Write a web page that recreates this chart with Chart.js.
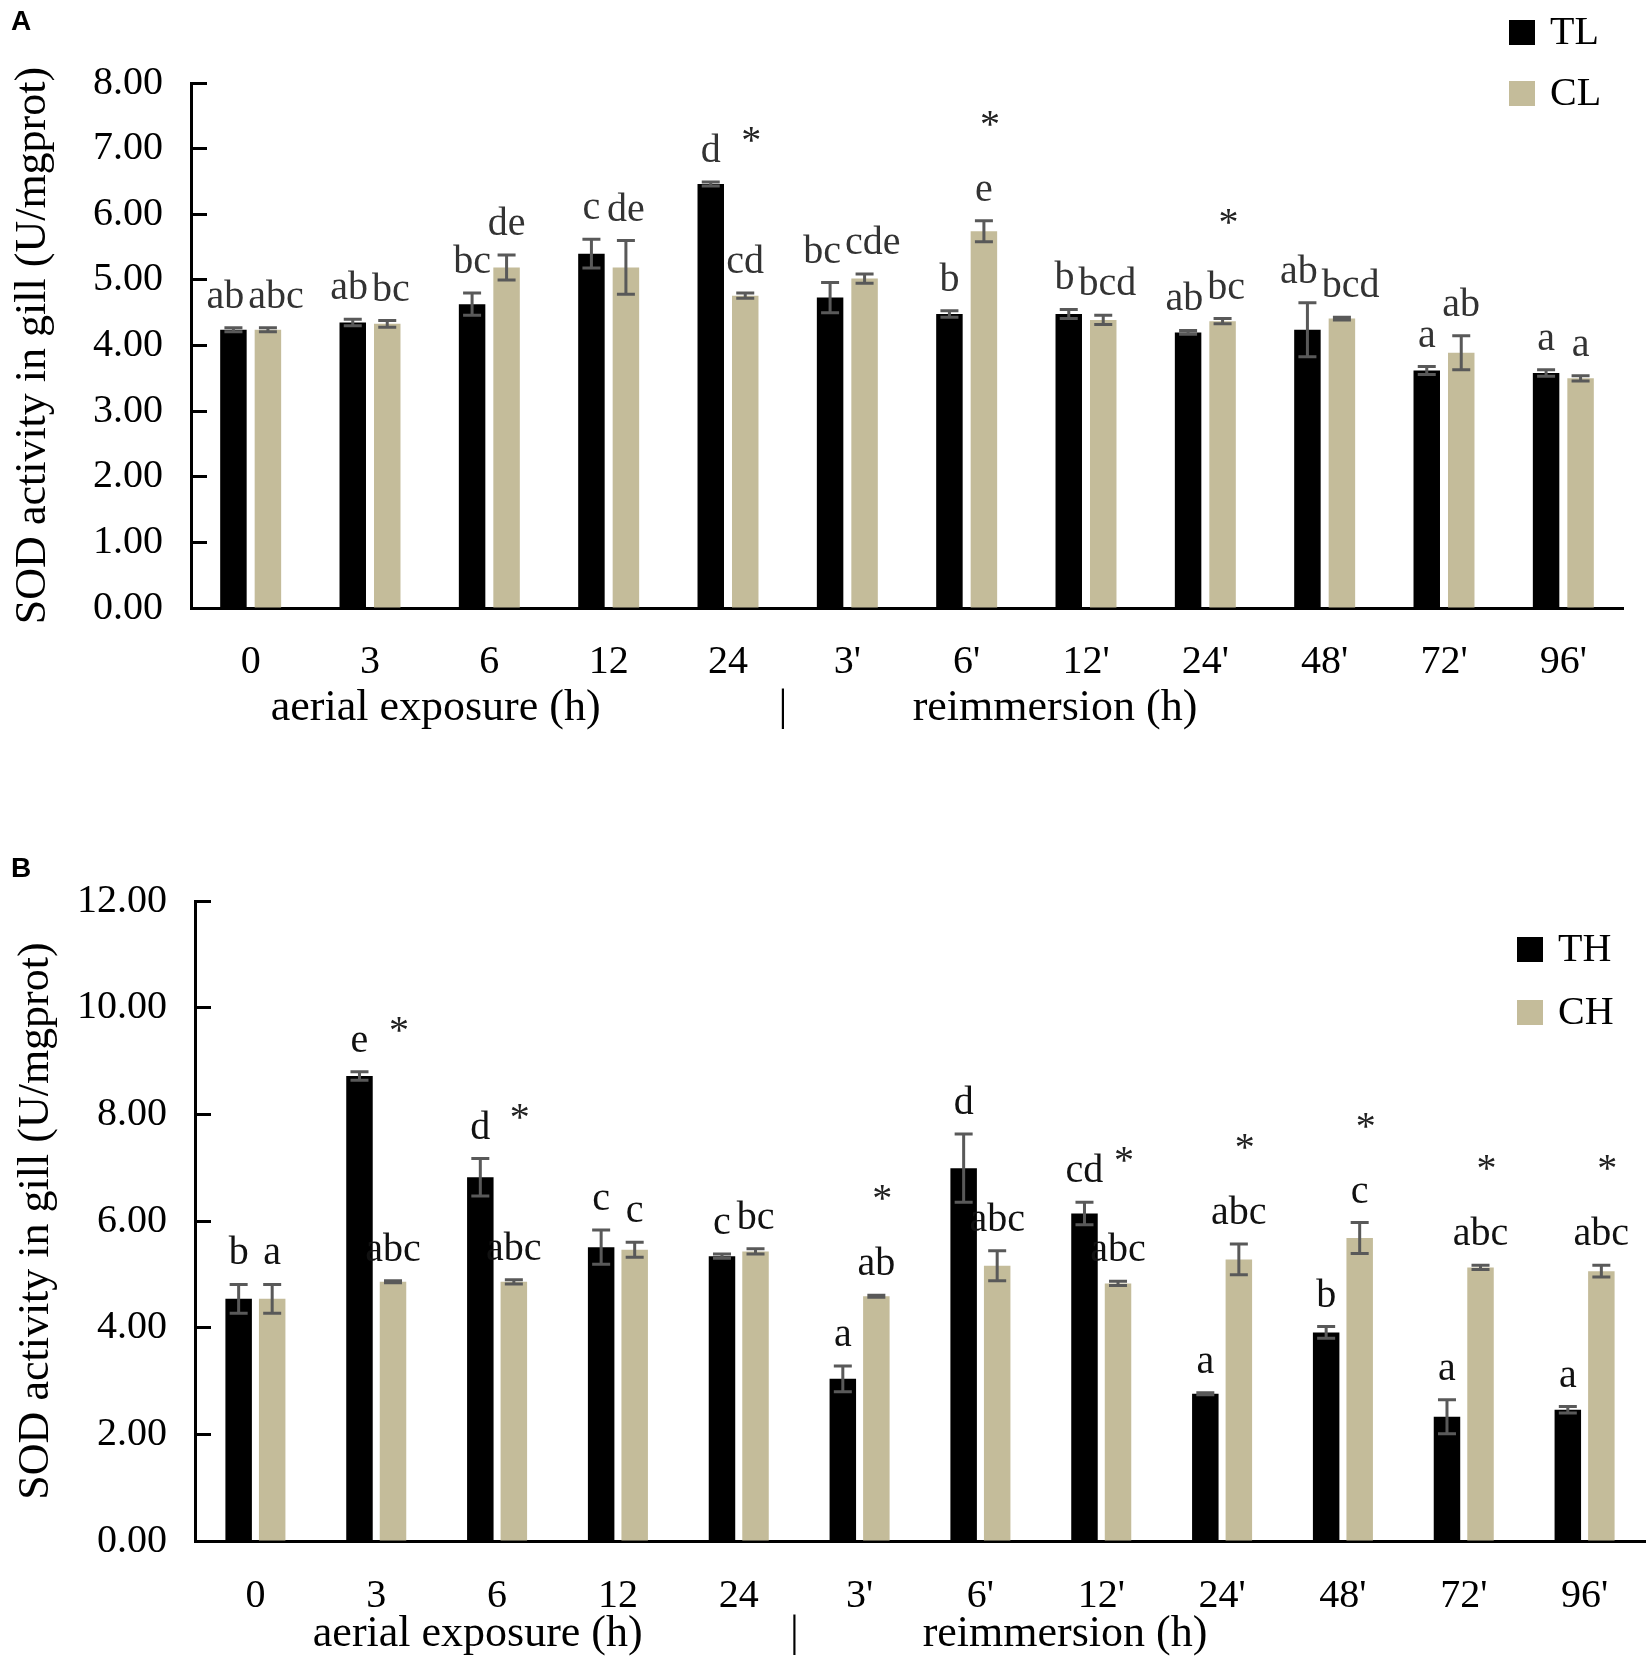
<!DOCTYPE html>
<html>
<head>
<meta charset="utf-8">
<script src="https://cdn.jsdelivr.net/npm/chart.js@4.4.1/dist/chart.umd.min.js"></script>
<style>
  html, body { margin: 0; padding: 0; background: #fff; }
  #wrap { position: relative; width: 1650px; height: 1669px; }
  canvas { position: absolute; left: 0; }
  #chartA { top: 0; }
  #chartB { top: 820px; }
</style>
</head>
<body>
<div id="wrap">
  <canvas id="chartA" width="1650" height="760"></canvas>
  <canvas id="chartB" width="1650" height="849"></canvas>
</div>
<script>
// time points (aerial exposure, then reimmersion)
const hours = ['0', '3', '6', '12', '24', "3'", "6'", "12'", "24'", "48'", "72'", "96'"];

// panel A: low temperature
const tlMean = [4.24, 4.35, 4.63, 5.40, 6.46, 4.73, 4.48, 4.48, 4.20, 4.24, 3.62, 3.58];
const tlErr  = [0.03, 0.05, 0.17, 0.22, 0.03, 0.23, 0.05, 0.07, 0.03, 0.41, 0.06, 0.05];
const clMean = [4.24, 4.33, 5.19, 5.19, 4.76, 5.02, 5.74, 4.39, 4.37, 4.41, 3.89, 3.50];
const clErr  = [0.03, 0.05, 0.19, 0.41, 0.04, 0.07, 0.16, 0.07, 0.04, 0.02, 0.26, 0.04];
const tlLetters = ['ab', 'ab', 'bc', 'c', 'd', 'bc', 'b', 'b', 'ab', 'ab', 'a', 'a'];
const clLetters = ['abc', 'bc', 'de', 'de', 'cd', 'cde', 'e', 'bcd', 'bc', 'bcd', 'ab', 'a'];
const starsA = [false, false, false, false, true, false, true, false, true, false, false, false];
const ticksA = [0, 8, 1];

// panel B: high temperature
const thMean = [4.54, 8.72, 6.82, 5.51, 5.34, 3.04, 6.99, 6.14, 2.76, 3.91, 2.33, 2.46];
const thErr  = [0.27, 0.08, 0.35, 0.32, 0.04, 0.24, 0.64, 0.21, 0.02, 0.11, 0.32, 0.06];
const chMean = [4.54, 4.86, 4.86, 5.46, 5.43, 4.59, 5.16, 4.83, 5.28, 5.68, 5.13, 5.06];
const chErr  = [0.27, 0.02, 0.04, 0.14, 0.05, 0.02, 0.28, 0.04, 0.29, 0.29, 0.04, 0.11];
const thLetters = ['b', 'e', 'd', 'c', 'c', 'a', 'd', 'cd', 'a', 'b', 'a', 'a'];
const chLetters = ['a', 'abc', 'abc', 'c', 'bc', 'ab', 'abc', 'abc', 'abc', 'c', 'abc', 'abc'];
const starsB = [false, true, true, false, false, true, false, true, true, true, true, true];
const ticksB = [0, 12, 2];

const yTitle = 'SOD activity in gill (U/mgprot)';
const BLACK = '#000000';
const TAN = '#c4bc9a';
const SERIF = '"Liberation Serif", "Times New Roman", serif';

Chart.defaults.font.family = SERIF;
Chart.defaults.color = '#000';

// error bars, letters, stars, legend, panel tag and the two axis captions
const annotate = {
  id: 'annotate',
  afterDatasetsDraw(chart, args, opts) {
    const ctx = chart.ctx;
    const y = chart.scales.y;
    const x = chart.scales.x;
    const sets = chart.data.datasets;
    const metas = sets.map((d, i) => chart.getDatasetMeta(i));
    ctx.save();

    ctx.strokeStyle = '#595959';
    ctx.lineWidth = 3;
    sets.forEach((ds, i) => {
      metas[i].data.forEach((bar, j) => {
        const top = y.getPixelForValue(ds.data[j] + ds.errors[j]);
        const bot = y.getPixelForValue(ds.data[j] - ds.errors[j]);
        ctx.beginPath();
        ctx.moveTo(bar.x, top); ctx.lineTo(bar.x, bot);
        ctx.moveTo(bar.x - 9, top); ctx.lineTo(bar.x + 9, top);
        ctx.moveTo(bar.x - 9, bot); ctx.lineTo(bar.x + 9, bot);
        ctx.stroke();
      });
    });

    ctx.font = '40px ' + SERIF;
    ctx.textAlign = 'center';
    ctx.textBaseline = 'alphabetic';
    for (let j = 0; j < chart.data.labels.length; j++) {
      const items = sets.map((ds, i) => ({
        text: ds.letters[j],
        x: metas[i].data[j].x,
        base: y.getPixelForValue(ds.data[j] + ds.errors[j]) - 20,
        w: ctx.measureText(ds.letters[j]).width
      }));
      const [l, r] = items;
      if (Math.abs(l.base - r.base) < 30) {
        const overlap = (l.x + l.w / 2) - (r.x - r.w / 2) + 4;
        if (overlap > 0) { l.x -= overlap / 2; r.x += overlap / 2; }
      }
      ctx.fillStyle = opts.letterColor;
      items.forEach(it => ctx.fillText(it.text, it.x, it.base));
      if (opts.stars[j]) {
        // star sits over the control label, or level with the treated label if that is higher
        const centre = Math.min(r.base - 28 - 55, l.base - 28);
        ctx.fillStyle = '#222';
        ctx.fillText('*', metas[1].data[j].x + 6, centre + 19);
      }
    }

    // legend
    const lg = opts.legend;
    ctx.textAlign = 'left';
    ctx.textBaseline = 'middle';
    sets.forEach((ds, i) => {
      const top = lg.y + i * lg.gap;
      ctx.fillStyle = ds.backgroundColor;
      ctx.fillRect(lg.x, top, 26, 25);
      ctx.fillStyle = '#000';
      ctx.fillText(ds.label, lg.x + 41, top + 13);
    });

    // captions under the category axis
    ctx.textAlign = 'center';
    ctx.font = '44px ' + SERIF;
    opts.captions.forEach(c => {
      ctx.fillText(c.text, x.getPixelForValue(c.at), opts.captionY);
    });

    ctx.font = 'bold 28px "Liberation Sans", Arial, sans-serif';
    ctx.textAlign = 'left';
    ctx.textBaseline = 'alphabetic';
    ctx.fillText(opts.tag, 11, opts.tagY);
    ctx.restore();
  }
};

const makeChart = (id, series, ticks, layout, extra) => {
  new Chart(document.getElementById(id), {
    type: 'bar',
    data: {
      labels: hours,
      datasets: series.map(s => ({
        label: s.label,
        data: s.mean,
        errors: s.err,
        letters: s.letters,
        backgroundColor: s.color,
        borderWidth: 0,
        categoryPercentage: layout.catPct,
        barPercentage: layout.barPct
      }))
    },
    options: {
      responsive: false,
      animation: false,
      devicePixelRatio: 1,
      layout: { padding: layout.padding },
      plugins: {
        legend: { display: false },
        tooltip: { enabled: false },
        annotate: extra
      },
      scales: {
        x: {
          afterFit: s => { s.height = layout.xHeight; },
          grid: { display: false },
          border: { display: true, color: '#000', width: 3 },
          ticks: { font: { size: 40 }, padding: layout.xPad, color: '#000', maxRotation: 0 }
        },
        y: {
          min: ticks[0],
          max: ticks[1],
          afterFit: s => { s.width = layout.yWidth; },
          grid: { display: true, drawOnChartArea: false, drawTicks: true, tickLength: -16, tickColor: '#000', tickWidth: 3 },
          border: { display: true, color: '#000', width: 3 },
          ticks: { stepSize: ticks[2], font: { size: 40 }, padding: 44, color: '#000', callback: v => v.toFixed(2) },
          title: { display: true, text: yTitle, font: { size: 44 }, color: '#000', padding: { top: layout.titlePad, bottom: 0 } }
        }
      }
    },
    plugins: [annotate]
  });
};

makeChart('chartA',
  [
    { label: 'TL', mean: tlMean, err: tlErr, letters: tlLetters, color: BLACK },
    { label: 'CL', mean: clMean, err: clErr, letters: clLetters, color: TAN }
  ],
  ticksA,
  { padding: { top: 83, right: 27, left: 0, bottom: 32 }, yWidth: 191, xHeight: 120, xPad: 22, titlePad: 7, catPct: 0.578, barPct: 0.768 },
  {
    letterColor: '#333', stars: starsA,
    legend: { x: 1509, y: 20, gap: 61 },
    captions: [
      { text: 'aerial exposure (h)', at: 1.55 },
      { text: '|', at: 4.46 },
      { text: 'reimmersion (h)', at: 6.74 }
    ],
    captionY: 708, tag: 'A', tagY: 30
  });

makeChart('chartB',
  [
    { label: 'TH', mean: thMean, err: thErr, letters: thLetters, color: BLACK },
    { label: 'CH', mean: chMean, err: chErr, letters: chLetters, color: TAN }
  ],
  ticksB,
  { padding: { top: 81, right: 5, left: 0, bottom: 18 }, yWidth: 195, xHeight: 110, xPad: 23, titlePad: 10, catPct: 0.555, barPct: 0.79 },
  {
    letterColor: '#111', stars: starsB,
    legend: { x: 1517, y: 117, gap: 63 },
    captions: [
      { text: 'aerial exposure (h)', at: 1.84 },
      { text: '|', at: 4.46 },
      { text: 'reimmersion (h)', at: 6.70 }
    ],
    captionY: 814, tag: 'B', tagY: 57
  });
</script>
</body>
</html>
